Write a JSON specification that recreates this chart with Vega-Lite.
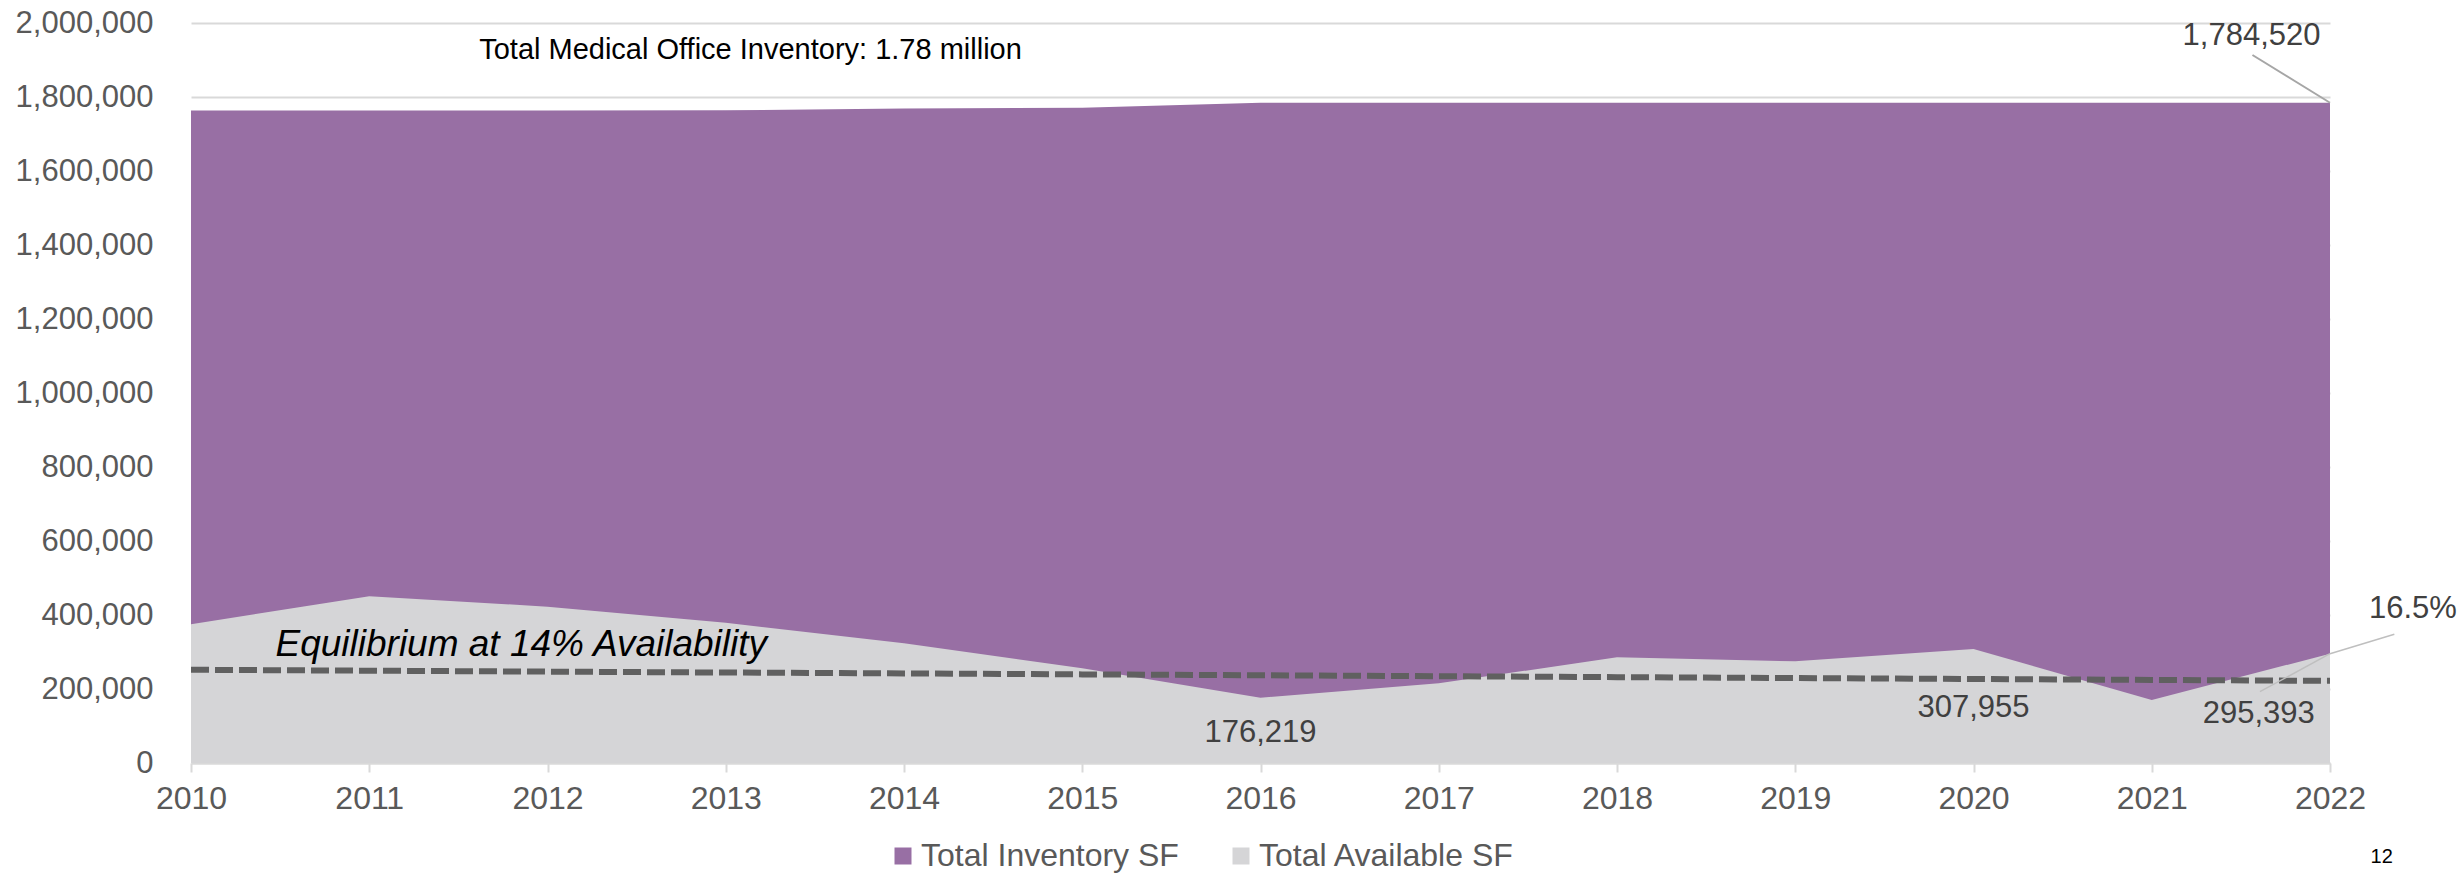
{
  "$schema": "https://vega.github.io/schema/vega-lite/v6.json",
  "width": 2139,
  "height": 740,
  "autosize": {"type": "none"},
  "padding": {"left": 191, "top": 23, "right": 130, "bottom": 114},
  "background": "#ffffff",
  "config": {
    "font": "Liberation Sans",
    "view": {"stroke": null},
    "legend": {
      "orient": "none",
      "legendX": 696,
      "legendY": 817,
      "direction": "horizontal",
      "symbolType": "square",
      "symbolSize": 289,
      "symbolStrokeWidth": 0,
      "symbolOpacity": 1,
      "labelFontSize": 32,
      "labelColor": "#595959",
      "labelFont": "Liberation Sans",
      "labelLimit": 0,
      "labelOffset": 2,
      "columnPadding": 46,
      "padding": 0,
      "title": null
    }
  },
  "datasets": {
    "main": [
      {"year": 2010, "inventory": 1763500, "available": 375000, "equilibrium": 252000},
      {"year": 2011, "inventory": 1763500, "available": 451000, "equilibrium": 249500},
      {"year": 2012, "inventory": 1763500, "available": 422500, "equilibrium": 247000},
      {"year": 2013, "inventory": 1764000, "available": 379000, "equilibrium": 244500},
      {"year": 2014, "inventory": 1769000, "available": 323500, "equilibrium": 242000},
      {"year": 2015, "inventory": 1771000, "available": 256000, "equilibrium": 239500},
      {"year": 2016, "inventory": 1784520, "available": 176219, "equilibrium": 237000},
      {"year": 2017, "inventory": 1784520, "available": 215400, "equilibrium": 234500},
      {"year": 2018, "inventory": 1784520, "available": 285600, "equilibrium": 232000},
      {"year": 2019, "inventory": 1784520, "available": 274800, "equilibrium": 229500},
      {"year": 2020, "inventory": 1784520, "available": 307955, "equilibrium": 227000},
      {"year": 2021, "inventory": 1784520, "available": 170300, "equilibrium": 224500},
      {"year": 2022, "inventory": 1784520, "available": 295393, "equilibrium": 222000}
    ],
    "valueLabels": [
      {"x": 2016, "y": 57600, "text": "176,219"},
      {"x": 2020, "y": 125100, "text": "307,955"},
      {"x": 2021.6, "y": 107300, "text": "295,393"},
      {"x": 2021.56, "y": 1940500, "text": "1,784,520"},
      {"x": 2022.465, "y": 391100, "text": "16.5%"}
    ],
    "leaders": [
      {"x": 2021.565, "y": 1913500, "x2": 2022, "y2": 1784520, "kind": "a"},
      {"x": 2021.607, "y": 192700, "x2": 2022, "y2": 295393, "kind": "b"},
      {"x": 2022, "y": 295393, "x2": 2022.361, "y2": 347800, "kind": "b"}
    ]
  },
  "layer": [
    {
      "data": {"name": "main"},
      "mark": {"type": "area", "opacity": 1},
      "encoding": {
        "x": {
          "field": "year", "type": "quantitative",
          "scale": {"domain": [2010, 2022], "nice": false, "zero": false},
          "axis": {
            "values": [2010, 2011, 2012, 2013, 2014, 2015, 2016, 2017, 2018, 2019, 2020, 2021, 2022],
            "format": "d",
            "title": null,
            "grid": false,
            "labelFontSize": 32,
            "labelColor": "#595959",
            "labelPadding": 11,
            "tickSize": 9,
            "tickColor": "#D9D9D9",
            "tickWidth": 2,
            "domainColor": "#D9D9D9",
            "domainWidth": 2,
            "labelFlush": false
          }
        },
        "y": {
          "field": "inventory", "type": "quantitative",
          "scale": {"domain": [0, 2000000], "nice": false},
          "axis": {
            "values": [0, 200000, 400000, 600000, 800000, 1000000, 1200000, 1400000, 1600000, 1800000, 2000000],
            "format": ",d",
            "title": null,
            "grid": true,
            "gridColor": "#D9D9D9",
            "gridWidth": 2,
            "ticks": false,
            "domain": false,
            "labelFontSize": 31,
            "labelColor": "#595959",
            "labelPadding": 38
          }
        },
        "color": {
          "datum": "Total Inventory SF",
          "scale": {"domain": ["Total Inventory SF", "Total Available SF"], "range": ["#986FA4", "#D5D5D7"]}
        }
      }
    },
    {
      "data": {"name": "main"},
      "mark": {"type": "area", "opacity": 1},
      "encoding": {
        "x": {"field": "year", "type": "quantitative"},
        "y": {"field": "available", "type": "quantitative"},
        "color": {"datum": "Total Available SF"}
      }
    },
    {
      "data": {"name": "main"},
      "mark": {"type": "line", "color": "#606060", "strokeWidth": 6, "strokeDash": [18, 6]},
      "encoding": {
        "x": {"field": "year", "type": "quantitative"},
        "y": {"field": "equilibrium", "type": "quantitative"}
      }
    },
    {
      "data": {"name": "leaders"},
      "mark": {"type": "rule"},
      "encoding": {
        "x": {"field": "x", "type": "quantitative"},
        "y": {"field": "y", "type": "quantitative"},
        "x2": {"field": "x2"},
        "y2": {"field": "y2"},
        "stroke": {"field": "kind", "type": "nominal", "scale": {"domain": ["a", "b"], "range": ["#A6A6A6", "#BFBFBF"]}, "legend": null},
        "strokeWidth": {"field": "kind", "type": "nominal", "scale": {"domain": ["a", "b"], "range": [2, 1.5]}, "legend": null}
      }
    },
    {
      "data": {"name": "valueLabels"},
      "mark": {"type": "text", "fontSize": 31, "color": "#404040", "baseline": "alphabetic", "align": "center"},
      "encoding": {
        "x": {"field": "x", "type": "quantitative"},
        "y": {"field": "y", "type": "quantitative"},
        "text": {"field": "text"}
      }
    },
    {
      "data": {"values": [{"x": 2013.139, "y": 1902700, "text": "Total Medical Office Inventory: 1.78 million"}]},
      "mark": {"type": "text", "fontSize": 29, "color": "#000000", "baseline": "alphabetic", "align": "center"},
      "encoding": {
        "x": {"field": "x", "type": "quantitative"},
        "y": {"field": "y", "type": "quantitative"},
        "text": {"field": "text"}
      }
    },
    {
      "data": {"values": [{"x": 2010.474, "y": 289200, "text": "Equilibrium at 14% Availability"}]},
      "mark": {"type": "text", "fontSize": 37, "fontStyle": "italic", "color": "#000000", "baseline": "alphabetic", "align": "left"},
      "encoding": {
        "x": {"field": "x", "type": "quantitative"},
        "y": {"field": "y", "type": "quantitative"},
        "text": {"field": "text"}
      }
    },
    {
      "data": {"values": [{"x": 2022.29, "y": -270000, "text": "12"}]},
      "mark": {"type": "text", "fontSize": 20, "color": "#000000", "baseline": "alphabetic", "align": "center"},
      "encoding": {
        "x": {"field": "x", "type": "quantitative"},
        "y": {"field": "y", "type": "quantitative"},
        "text": {"field": "text"}
      }
    }
  ]
}
